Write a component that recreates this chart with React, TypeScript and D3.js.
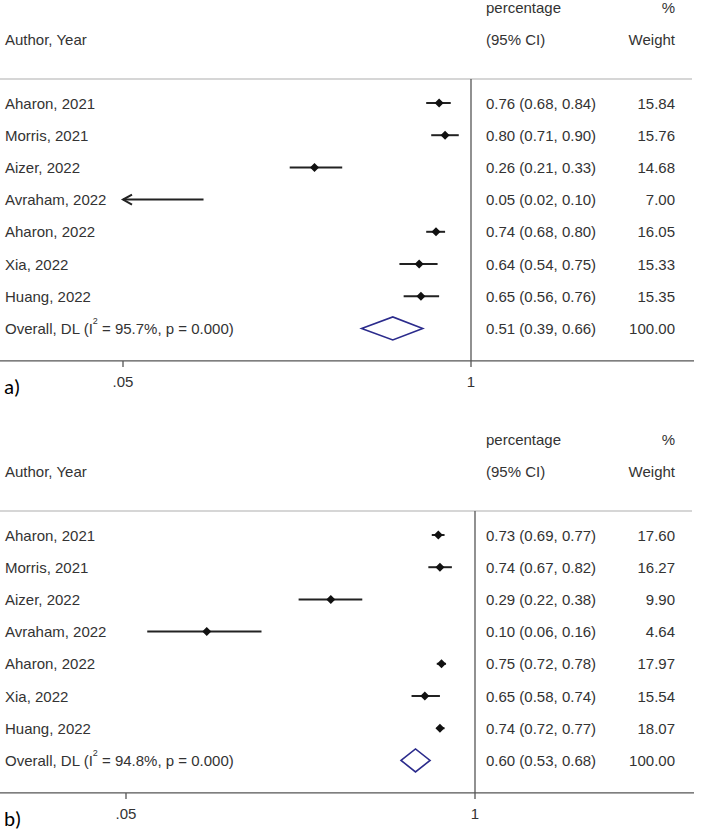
import React from "react"
import * as d3 from "d3"

const authors = [
  "Aharon, 2021",
  "Morris, 2021",
  "Aizer, 2022",
  "Avraham, 2022",
  "Aharon, 2022",
  "Xia, 2022",
  "Huang, 2022",
]

// panel a
const estA = [0.76, 0.8, 0.26, 0.05, 0.74, 0.64, 0.65]
const lowA = [0.68, 0.71, 0.21, 0.02, 0.68, 0.54, 0.56]
const highA = [0.84, 0.9, 0.33, 0.1, 0.8, 0.75, 0.76]
const weightA = [15.84, 15.76, 14.68, 7.0, 16.05, 15.33, 15.35]
const overallA = [0.51, 0.39, 0.66]
const i2A = "95.7%"

// panel b
const estB = [0.73, 0.74, 0.29, 0.1, 0.75, 0.65, 0.74]
const lowB = [0.69, 0.67, 0.22, 0.06, 0.72, 0.58, 0.72]
const highB = [0.77, 0.82, 0.38, 0.16, 0.78, 0.74, 0.77]
const weightB = [17.6, 16.27, 9.9, 4.64, 17.97, 15.54, 18.07]
const overallB = [0.6, 0.53, 0.68]
const i2B = "94.8%"

const xTicks = [0.05, 1]
const tickLabels = [".05", "1"]

const font = "'Liberation Sans', Arial, sans-serif"
const txt = "#333"

type PanelProps = {
  top: number
  label: string
  est: number[]
  low: number[]
  high: number[]
  weight: number[]
  overall: number[]
  i2: string
  xRange: [number, number]
}

const Panel = ({ top, label, est, low, high, weight, overall, i2, xRange }: PanelProps) => {
  const x = d3.scaleLog().domain([0.05, 1]).range(xRange)
  const y = d3
    .scaleLinear()
    .domain([0, authors.length])
    .range([top + 96, top + 96 + 32.2 * authors.length])
  const [xmin] = x.domain()
  const f2 = d3.format(".2f")
  const lineTop = top + 72
  const axisY = y(authors.length) + 32.5
  const nullX = x(1)
  const colCI = 486
  const colW = 675
  const ov = y(authors.length)

  return (
    <g fontFamily={font} fontSize={15} fill={txt}>
      <text x={colCI} y={top} dominantBaseline="central">percentage</text>
      <text x={colW} y={top} textAnchor="end" dominantBaseline="central">%</text>
      <text x={5} y={top + 32} dominantBaseline="central">Author, Year</text>
      <text x={colCI} y={top + 32} dominantBaseline="central">(95% CI)</text>
      <text x={colW} y={top + 32} textAnchor="end" dominantBaseline="central">Weight</text>

      <line x1={0} x2={692} y1={lineTop} y2={lineTop} stroke="#d6d6d6" strokeWidth={2} />
      <line x1={nullX} x2={nullX} y1={lineTop} y2={axisY} stroke="#555" strokeWidth={1.3} />

      {authors.map((a, i) => {
        const yy = y(i)
        const clipped = low[i] < xmin
        const x0 = x(Math.max(low[i], xmin))
        const x1 = x(high[i])
        return (
          <g key={i}>
            <text x={5} y={yy} dominantBaseline="central">{a}</text>
            <line x1={x0} x2={x1} y1={yy} y2={yy} stroke="#222" strokeWidth={2} />
            {clipped && (
              <path
                d={`M${x0 + 9},${yy - 5} L${x0},${yy} L${x0 + 9},${yy + 5}`}
                fill="none"
                stroke="#222"
                strokeWidth={2}
              />
            )}
            {est[i] > xmin && (
              <path
                d={`M${x(est[i]) - 4.5},${yy} L${x(est[i])},${yy - 4.5} L${x(est[i]) + 4.5},${yy} L${x(est[i])},${yy + 4.5} Z`}
                fill="#111"
              />
            )}
            <text x={colCI} y={yy} dominantBaseline="central">
              {`${f2(est[i])} (${f2(low[i])}, ${f2(high[i])})`}
            </text>
            <text x={colW} y={yy} textAnchor="end" dominantBaseline="central">{f2(weight[i])}</text>
          </g>
        )
      })}

      <text x={5} y={ov} dominantBaseline="central">
        Overall, DL (I
        <tspan fontSize={9} dy={-7}>2</tspan>
        <tspan dy={7}>{` = ${i2}, p = 0.000)`}</tspan>
      </text>
      <path
        d={`M${x(overall[1])},${ov} L${x(overall[0])},${ov - 11.5} L${x(overall[2])},${ov} L${x(overall[0])},${ov + 11.5} Z`}
        fill="none"
        stroke="#2b2b8c"
        strokeWidth={1.6}
      />
      <text x={colCI} y={ov} dominantBaseline="central">
        {`${f2(overall[0])} (${f2(overall[1])}, ${f2(overall[2])})`}
      </text>
      <text x={colW} y={ov} textAnchor="end" dominantBaseline="central">100.00</text>

      <line x1={0} x2={694} y1={axisY} y2={axisY} stroke="#555" strokeWidth={1.3} />
      {xTicks.map((t, i) => (
        <g key={t}>
          <line x1={x(t)} x2={x(t)} y1={axisY} y2={axisY + 6} stroke="#555" strokeWidth={1.3} />
          <text x={x(t)} y={axisY + 21} textAnchor="middle" dominantBaseline="central">
            {tickLabels[i]}
          </text>
        </g>
      ))}

      <text
        x={4}
        y={axisY + 26}
        fontFamily="Carlito, Calibri, 'Liberation Sans', sans-serif"
        fontSize={21}
        fill="#000"
        dominantBaseline="central"
      >
        {label}
      </text>
    </g>
  )
}

export default function App() {
  return (
    <div style={{ position: "absolute", left: 0, top: 0, background: "#fff" }}>
      <svg width={703} height={833} style={{ display: "block" }}>
        <rect width={703} height={833} fill="#fff" />
        <Panel
          top={7}
          label="a)"
          est={estA}
          low={lowA}
          high={highA}
          weight={weightA}
          overall={overallA}
          i2={i2A}
          xRange={[123, 471]}
        />
        <Panel
          top={439}
          label="b)"
          est={estB}
          low={lowB}
          high={highB}
          weight={weightB}
          overall={overallB}
          i2={i2B}
          xRange={[126, 475]}
        />
      </svg>
    </div>
  )
}
